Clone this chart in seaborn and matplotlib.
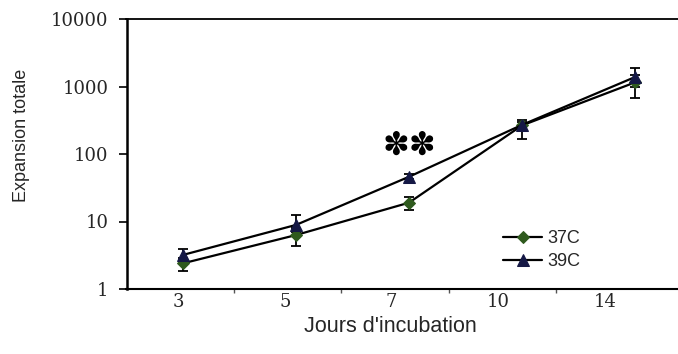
import numpy as np
import pandas as pd
import matplotlib
matplotlib.use("Agg")
import matplotlib.pyplot as plt
import matplotlib.transforms as mtransforms
import seaborn as sns
from matplotlib.ticker import FixedLocator, FixedFormatter

days = ["3", "5", "7", "10", "14"]
exp37 = [2.4, 6.3, 19, 265, 1150]
lo37 = [1.85, 4.3, 14.8, 167, 676]
hi37 = [2.9, 8.0, 23, 300, 1500]
exp39 = [3.2, 8.9, 46, 270, 1380]
lo39 = [2.7, 7.0, 42, 230, 1000]
hi39 = [3.9, 12.5, 50, 318, 1880]
ytick_vals = [1, 10, 100, 1000, 10000]
ytick_labels = ["1", "10", "100", "1000", "10000"]

sns.set_style("white")
plt.rcParams["font.family"] = ["Liberation Sans", "DejaVu Sans"]

fig = plt.figure(figsize=(6.78, 3.54), dpi=100)
ax = fig.add_axes([126.5 / 678, (354 - 289) / 354, 565 / 678, 270 / 354])

x = np.arange(len(days))
df = pd.DataFrame({
    "x": np.concatenate([x, x]),
    "val": exp37 + exp39,
    "serie": ["37C"] * 5 + ["39C"] * 5,
})

col37 = "#2f5a1e"
col39 = "#151845"
for name, vals, lo, hi, mk, mcol, ms in [
    ("37C", exp37, lo37, hi37, "D", col37, 6.5),
    ("39C", exp39, lo39, hi39, "^", col39, 8.5),
]:
    sub = df[df["serie"] == name]
    sns.lineplot(data=sub, x="x", y="val", ax=ax, color="black", lw=1.6,
                 marker=mk, markersize=ms, markerfacecolor=mcol,
                 markeredgecolor=mcol, label=name, zorder=3)
    v = np.array(vals)
    ax.errorbar(x, v, yerr=[v - np.array(lo), np.array(hi) - v], fmt="none",
                ecolor="black", elinewidth=1.3, capsize=3.5, capthick=1.3,
                zorder=2)

ax.set_yscale("log")
ax.set_ylim(1, 10000)
ax.set_xlim(-0.5, 4.5)
ax.yaxis.set_major_locator(FixedLocator(ytick_vals))
ax.yaxis.set_major_formatter(FixedFormatter(ytick_labels))
ax.yaxis.set_minor_locator(FixedLocator([]))
ax.set_xticks(x)
ax.set_xticklabels([])
ax.xaxis.set_minor_locator(FixedLocator([0.45, 1.4, 2.35, 3.3]))

for lab in ax.get_yticklabels():
    lab.set_fontfamily("DejaVu Serif")
    lab.set_fontsize(13)

# category labels (the scanned reference has them drifted slightly left)
for i, d in enumerate(days):
    off = mtransforms.ScaledTranslation(-(5 + 6.3 * i) / 100, 0, fig.dpi_scale_trans)
    ax.text(x[i], -0.015, d, transform=ax.get_xaxis_transform() + off,
            ha="center", va="top", fontsize=13, family="DejaVu Serif")

ax.tick_params(axis="y", which="major", direction="out", length=6, width=1.2,
               left=True, pad=7, color="black")
ax.tick_params(axis="x", which="major", length=0)
ax.tick_params(axis="x", which="minor", direction="out", length=3, width=1,
               bottom=True, color="#555555")

for s in ["left", "bottom", "top"]:
    ax.spines[s].set_visible(True)
    ax.spines[s].set_color("black")
ax.spines["left"].set_linewidth(1.8)
ax.spines["bottom"].set_linewidth(1.5)
ax.spines["top"].set_linewidth(1.3)
ax.spines["right"].set_visible(False)

ax.set_xlabel("")
ax.set_ylabel("")
fig.text(390 / 678, 1 - 327 / 354, "Jours d'incubation", fontsize=15.5,
         ha="center", va="center")
fig.text(22 / 678, 1 - 135 / 354, "Expansion totale", fontsize=13,
         rotation=90, ha="center", va="center")

ax.text(2, 128, "\u273d\u273d", ha="center", va="center", fontsize=23,
        family="DejaVu Sans", color="black")

leg = ax.legend(loc="center left", bbox_to_anchor=(0.653, 0.144), frameon=False,
                fontsize=13, handlelength=2.2, handletextpad=0.3,
                labelspacing=0.3, borderaxespad=0)

fig.savefig("out.png", dpi=100)
